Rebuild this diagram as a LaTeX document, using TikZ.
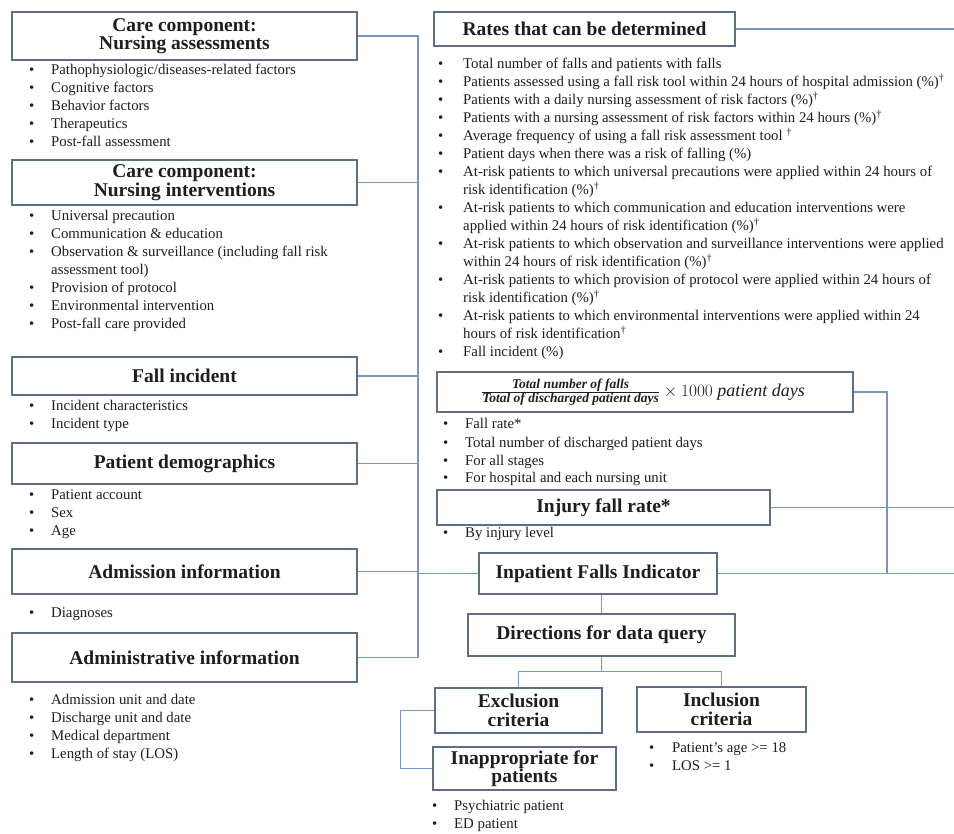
\documentclass[tikz,border=0pt]{standalone}
\usepackage{fontspec}
\setmainfont{Liberation Serif}
\definecolor{conn}{RGB}{120,150,195}
\definecolor{boxc}{RGB}{95,110,135}
\definecolor{txt}{RGB}{30,30,30}
\newlength\bw
\newcommand\bitm[1]{\par\noindent\hangindent=\bw\hangafter=1\makebox[\bw][l]{•}#1}
\newcommand\blist[3]{\parbox[t]{#1}{\setlength\bw{#2}\raggedright\fontsize{14.8}{18}\selectfont #3}}
\begin{document}
\begin{tikzpicture}[x=1pt,y=-1pt,
  hd/.style={draw=boxc, line width=1.1pt, fill=white, text=txt,
    font=\fontsize{19.5}{18.5}\selectfont\bfseries, align=center, inner sep=0pt},
  cn/.style={draw=conn, line width=1.6pt},
  lst/.style={anchor=base west, inner sep=0pt, text=txt}]
\useasboundingbox (0,0) rectangle (954,834);
\fill[white] (0,0) rectangle (954,834);

% left column boxes
\node[hd, minimum width=345pt, minimum height=48pt] (nassess) at (184.5,36) {Care component:\\Nursing assessments};
\node[hd, minimum width=345pt, minimum height=45pt] (ninterv) at (184.5,182.5) {Care component:\\Nursing interventions};
\node[hd, minimum width=345pt, minimum height=38pt] (fall) at (184.5,376) {Fall incident};
\node[hd, minimum width=345pt, minimum height=41pt] (demo) at (184.5,463.5) {Patient demographics};
\node[hd, minimum width=345pt, minimum height=45pt] (admis) at (184.5,571.5) {Admission information};
\node[hd, minimum width=345pt, minimum height=49pt] (admin) at (184.5,657.5) {Administrative information};

% right column boxes
\node[hd, minimum width=301pt, minimum height=34pt] (rates) at (584.5,29) {Rates that can be determined};
\node[draw=boxc, line width=1.1pt, fill=white, text=txt, inner sep=0pt, minimum width=416pt, minimum height=40pt] (form) at (645,392)
  {\fontsize{18}{18}\selectfont$\frac{\hbox{\fontsize{13.5}{13.5}\selectfont\bfseries\itshape Total number of falls}}{\hbox{\fontsize{13.5}{13.5}\selectfont\bfseries\itshape Total of discharged patient days}}\times 1000\ \hbox{\itshape patient days}$\hspace*{4pt}};
\node[hd, minimum width=333pt, minimum height=35pt] (injury) at (603.5,507.5) {Injury fall rate*};
\node[hd, minimum width=238pt, minimum height=41pt] (indic) at (598,573.5) {Inpatient Falls Indicator};
\node[hd, minimum width=267pt, minimum height=42pt] (dirq) at (601.5,635) {Directions for data query};
\node[hd, minimum width=167pt, minimum height=45pt] (excl) at (518.5,710.5) {Exclusion\\criteria};
\node[hd, minimum width=169pt, minimum height=45pt] (incl) at (721.5,709.5) {Inclusion\\criteria};
\node[hd, minimum width=183pt, minimum height=43pt] (inapp) at (524.5,768.5) {Inappropriate for\\patients};

% bullet lists
\node[lst] (l1) at (29,75) {\blist{360pt}{22pt}{%
  \bitm{Pathophysiologic/diseases-related factors}
  \bitm{Cognitive factors}
  \bitm{Behavior factors}
  \bitm{Therapeutics}
  \bitm{Post-fall assessment}}};
\node[lst] (l2) at (29,221) {\blist{360pt}{22pt}{%
  \bitm{Universal precaution}
  \bitm{Communication \& education}
  \bitm{Observation \& surveillance (including fall risk\newline assessment tool)}
  \bitm{Provision of protocol}
  \bitm{Environmental intervention}
  \bitm{Post-fall care provided}}};
\node[lst] (l3) at (29,411) {\blist{360pt}{22pt}{%
  \bitm{Incident characteristics}
  \bitm{Incident type}}};
\node[lst] (l4) at (29,499) {\blist{360pt}{22pt}{%
  \bitm{Patient account}
  \bitm{Sex}
  \bitm{Age}}};
\node[lst] (l5) at (29,617) {\blist{360pt}{22pt}{%
  \bitm{Diagnoses}}};
\node[lst] (l6) at (29,704) {\blist{360pt}{22pt}{%
  \bitm{Admission unit and date}
  \bitm{Discharge unit and date}
  \bitm{Medical department}
  \bitm{Length of stay (LOS)}}};
\node[lst] (r1) at (438,69) {\blist{600pt}{25pt}{%
  \bitm{Total number of falls and patients with falls}
  \bitm{Patients assessed using a fall risk tool within 24 hours of hospital admission (\%)\textsuperscript{†}}
  \bitm{Patients with a daily nursing assessment of risk factors (\%)\textsuperscript{†}}
  \bitm{Patients with a nursing assessment of risk factors within 24 hours (\%)\textsuperscript{†}}
  \bitm{Average frequency of using a fall risk assessment tool \textsuperscript{†}}
  \bitm{Patient days when there was a risk of falling (\%)}
  \bitm{At-risk patients to which universal precautions were applied within 24 hours of\newline risk identification (\%)\textsuperscript{†}}
  \bitm{At-risk patients to which communication and education interventions were\newline applied within 24 hours of risk identification (\%)\textsuperscript{†}}
  \bitm{At-risk patients to which observation and surveillance interventions were applied\newline within 24 hours of risk identification (\%)\textsuperscript{†}}
  \bitm{At-risk patients to which provision of protocol were applied within 24 hours of\newline risk identification (\%)\textsuperscript{†}}
  \bitm{At-risk patients to which environmental interventions were applied within 24\newline hours of risk identification\textsuperscript{†}}
  \bitm{Fall incident (\%)}}};
\node[lst] (r2) at (443,429) {\blist{400pt}{22pt}{%
  \bitm{Fall rate*}
  \bitm{Total number of discharged patient days}
  \bitm{For all stages}
  \bitm{For hospital and each nursing unit}}};
\node[lst] (r3) at (443,537) {\blist{400pt}{22pt}{%
  \bitm{By injury level}}};
\node[lst] (i1) at (649,752) {\blist{250pt}{23pt}{%
  \bitm{Patient’s age >= 18}
  \bitm{LOS >= 1}}};
\node[lst] (i2) at (432,810) {\blist{250pt}{22pt}{%
  \bitm{Psychiatric patient}
  \bitm{ED patient}}};

% connectors
\coordinate (bt) at (418,36);
\coordinate (bb) at (418,657.5);
\draw[cn] (nassess.east) -- (bt) -- (bb) -- (admin.east);
\draw[cn] (ninterv.east) -- (ninterv.east -| bt);
\draw[cn] (fall.east) -- (fall.east -| bt);
\draw[cn] (demo.east) -- (demo.east -| bt);
\draw[cn] (admis.east) -- (admis.east -| bt);
\draw[cn] (indic.west) -- (indic.west -| bt);
\coordinate (e1) at (954,29);
\draw[cn] (rates.east) -- (e1);
\coordinate (fv) at (887,573.5);
\draw[cn] (form.east) -| (fv);
\coordinate (e2) at (954,507.5);
\draw[cn] (injury.east) -- (e2);
\coordinate (e3) at (954,573.5);
\draw[cn] (indic.east) -- (e3);
\draw[cn] (indic.south -| dirq.north) -- (dirq.north);
\draw[cn] (dirq.south) -- ++(0,15) coordinate (dj);
\draw[cn] (excl.north) |- (dj) -| (incl.north);
\draw[cn] (excl.west) -- ++(-34,0) coordinate (ej) |- (inapp.west);
\end{tikzpicture}
\end{document}
